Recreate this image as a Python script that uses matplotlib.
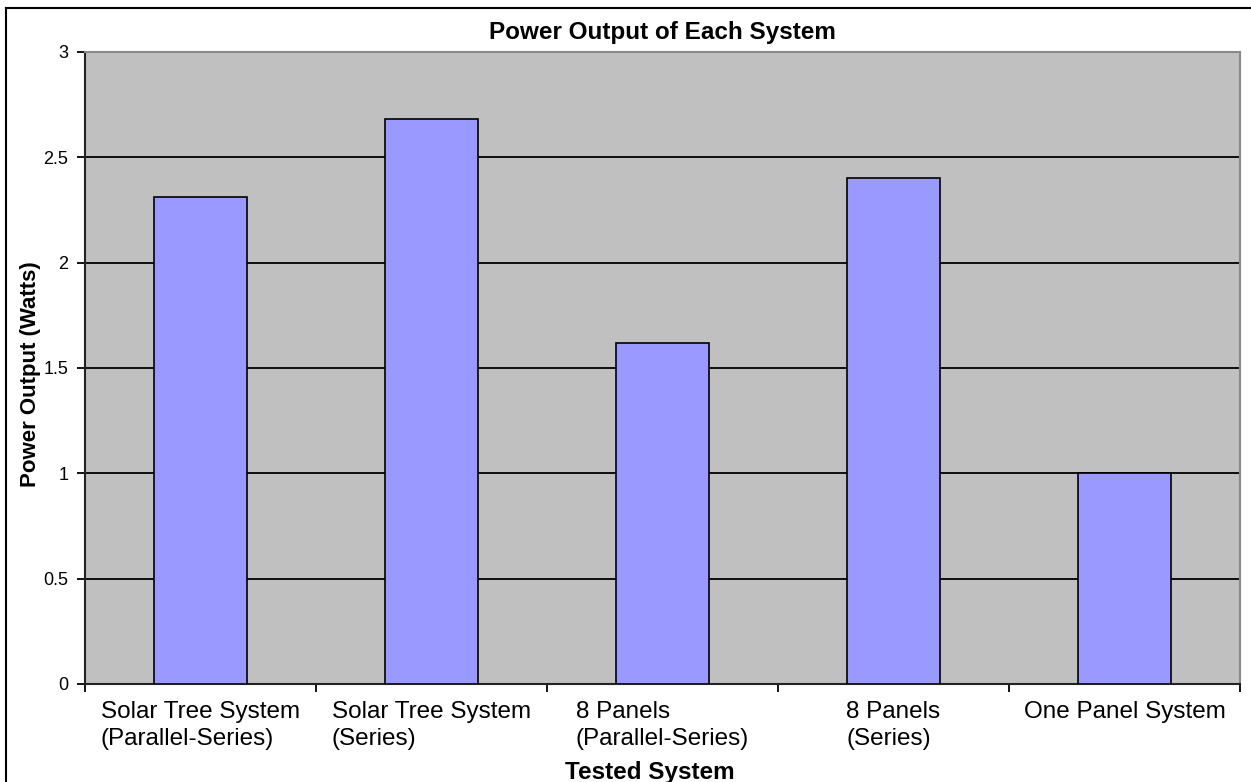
import matplotlib
matplotlib.use("Agg")
import matplotlib.pyplot as plt
from matplotlib.lines import Line2D

categories = ["Solar Tree System\n(Parallel-Series)", "Solar Tree System\n(Series)",
              "8 Panels\n(Parallel-Series)", "8 Panels\n(Series)", "One Panel System"]
values = [2.31, 2.68, 1.62, 2.40, 1.00]
yticks = [0, 0.5, 1, 1.5, 2, 2.5, 3]
ytick_labels = ["0", "0.5", "1", "1.5", "2", "2.5", "3"]

plt.rcParams['font.family'] = ['Liberation Sans', 'DejaVu Sans']

W, H = 1251, 782
fig = plt.figure(figsize=(W/100, H/100), dpi=100)
fig.patch.set_facecolor('white')

L, R, T, B = 85, 1240, 52, 684
ax = fig.add_axes([L/W, 1 - B/H, (R-L)/W, (B-T)/H])
ax.set_facecolor('#C0C0C0')

x = list(range(len(categories)))
ax.bar(x, values, width=0.4, color='#9999FF', edgecolor='black', linewidth=1.2, zorder=3)

ax.set_xlim(-0.5, len(categories) - 0.5)
ax.set_ylim(0, 3)
ax.set_yticks(yticks)
ax.set_yticklabels(ytick_labels, fontsize=13)
ax.yaxis.grid(True, color='black', linewidth=1.3, zorder=1)
ax.set_axisbelow(True)

ax.set_xticks(x)
ax.set_xticklabels(categories, fontsize=17.5, multialignment='left', linespacing=1.3)
ax.set_xticks([i - 0.5 for i in range(len(categories) + 1)], minor=True)
ax.tick_params(axis='x', which='major', length=0, pad=12)
ax.tick_params(axis='x', which='minor', length=6, width=1.3, direction='out', color='black')
ax.tick_params(axis='y', length=6, width=1.3, direction='out', pad=6)

for s in ['left', 'bottom']:
    ax.spines[s].set_color('#222222')
    ax.spines[s].set_linewidth(1.5)
for s in ['top', 'right']:
    ax.spines[s].set_color('#888888')
    ax.spines[s].set_linewidth(1.5)

fig.text((L+R)/2/W, 1 - 32/H, "Power Output of Each System", ha='center', va='center',
         fontsize=17.5, fontweight='bold')
fig.text(650/W, 1 - 773/H, "Tested System", ha='center', va='center',
         fontsize=17.5, fontweight='bold')
fig.text(31/W, 1 - 374/H, "Power Output (Watts)", ha='center', va='center',
         rotation=90, fontsize=16, fontweight='bold')

# outer chart border (top and left visible)
fig.add_artist(Line2D([6/W, 1], [1 - 8/H, 1 - 8/H], transform=fig.transFigure, color='black', linewidth=1.5))
fig.add_artist(Line2D([6/W, 6/W], [0, 1 - 8/H], transform=fig.transFigure, color='black', linewidth=1.5))

fig.savefig("out.png", dpi=100)
